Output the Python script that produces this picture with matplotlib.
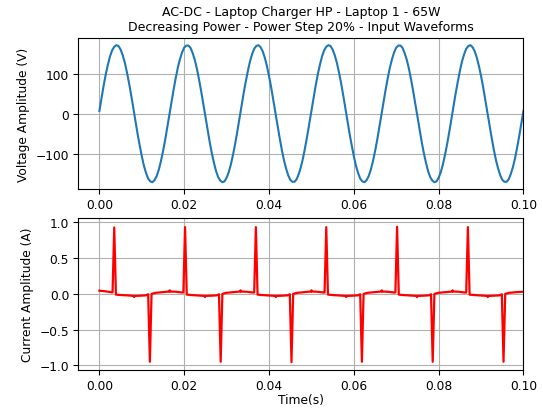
"""AC-DC laptop charger input waveforms (voltage and current)."""
import numpy as np
import matplotlib
matplotlib.use('Agg')
import matplotlib.pyplot as plt

volt_time = np.linspace(0.0, 0.1, 201)
volt = [
    7, 39, 70, 98, 122, 143, 158, 167, 171, 169,
    160, 146, 127, 103, 76, 46, 14, -18, -50, -79,
    -106, -130, -148, -162, -169, -171, -166, -156, -140, -119,
    -94, -66, -35, -3, 29, 60, 89, 115, 136, 153,
    165, 170, 170, 164, 151, 134, 112, 85, 56, 25,
    -7, -39, -70, -98, -122, -143, -158, -167, -171, -169,
    -160, -146, -127, -103, -76, -46, -14, 18, 50, 79,
    106, 130, 148, 162, 169, 171, 166, 156, 140, 119,
    94, 66, 35, 3, -29, -60, -89, -115, -136, -153,
    -165, -170, -170, -164, -151, -134, -112, -85, -56, -25,
    7, 39, 70, 98, 122, 143, 158, 167, 171, 169,
    160, 146, 127, 103, 76, 46, 14, -18, -50, -79,
    -106, -130, -148, -162, -169, -171, -166, -156, -140, -119,
    -94, -66, -35, -3, 29, 60, 89, 115, 136, 153,
    165, 170, 170, 164, 151, 134, 112, 85, 56, 25,
    -7, -39, -70, -98, -122, -143, -158, -167, -171, -169,
    -160, -146, -127, -103, -76, -46, -14, 18, 50, 79,
    106, 130, 148, 162, 169, 171, 166, 156, 140, 119,
    94, 66, 35, 3, -29, -60, -89, -115, -136, -153,
    -165, -170, -170, -164, -151, -134, -112, -85, -56, -25,
    7,
]

# Input current: breakpoints of the measured trace
curr_time = [
    0.0000, 0.0012, 0.0024,
    0.0031, 0.0035, 0.0039, 0.0048, 0.0065, 0.0081, 0.0082, 0.0083, 0.0097, 0.0110,
    0.0115, 0.0119, 0.0123, 0.0132, 0.0149, 0.0165, 0.0166, 0.0167, 0.0181, 0.0194,
    0.0198, 0.0202, 0.0206, 0.0215, 0.0232, 0.0248, 0.0249, 0.0250, 0.0264, 0.0277,
    0.0282, 0.0286, 0.0290, 0.0299, 0.0316, 0.0332, 0.0333, 0.0334, 0.0348, 0.0361,
    0.0365, 0.0369, 0.0373, 0.0382, 0.0399, 0.0415, 0.0416, 0.0417, 0.0431, 0.0444,
    0.0449, 0.0453, 0.0457, 0.0466, 0.0483, 0.0499, 0.0500, 0.0501, 0.0515, 0.0528,
    0.0531, 0.0535, 0.0539, 0.0548, 0.0565, 0.0581, 0.0582, 0.0583, 0.0597, 0.0610,
    0.0615, 0.0619, 0.0623, 0.0632, 0.0649, 0.0665, 0.0666, 0.0667, 0.0681, 0.0694,
    0.0698, 0.0702, 0.0706, 0.0715, 0.0732, 0.0748, 0.0749, 0.0750, 0.0764, 0.0777,
    0.0782, 0.0786, 0.0790, 0.0799, 0.0816, 0.0832, 0.0833, 0.0834, 0.0848, 0.0861,
    0.0865, 0.0869, 0.0873, 0.0882, 0.0899, 0.0915, 0.0916, 0.0917, 0.0931, 0.0944,
    0.0949, 0.0953, 0.0957, 0.0966, 0.0983, 0.1000,
]
curr = [
    0.045, 0.038, 0.028,
    0.020, 0.930, -0.010, -0.015, -0.020, -0.028, -0.045, -0.028, -0.025, -0.020,
    -0.005, -0.950, 0.000, 0.015, 0.025, 0.033, 0.050, 0.033, 0.030, 0.020,
    0.020, 0.935, -0.010, -0.015, -0.022, -0.028, -0.045, -0.028, -0.025, -0.020,
    -0.005, -0.950, 0.000, 0.015, 0.025, 0.033, 0.050, 0.033, 0.030, 0.020,
    0.020, 0.935, -0.010, -0.015, -0.022, -0.028, -0.045, -0.028, -0.025, -0.020,
    -0.005, -0.955, 0.000, 0.015, 0.025, 0.033, 0.050, 0.033, 0.030, 0.020,
    0.020, 0.935, -0.010, -0.015, -0.022, -0.028, -0.045, -0.028, -0.025, -0.020,
    -0.005, -0.950, 0.000, 0.015, 0.025, 0.033, 0.050, 0.033, 0.030, 0.020,
    0.020, 0.940, -0.010, -0.015, -0.022, -0.028, -0.045, -0.028, -0.025, -0.020,
    -0.005, -0.950, 0.000, 0.015, 0.025, 0.033, 0.050, 0.033, 0.030, 0.020,
    0.020, 0.935, -0.010, -0.015, -0.022, -0.028, -0.045, -0.028, -0.025, -0.020,
    -0.005, -0.950, 0.000, 0.015, 0.025, 0.030,
]

plt.rcParams['font.size'] = 8.8

fig, (ax1, ax2) = plt.subplots(2, 1, figsize=(5.43, 4.10), dpi=100)
fig.subplots_adjust(left=0.144, right=0.964, top=0.905, bottom=0.096, hspace=0.19)

ax1.plot(volt_time, volt, color='#1f77b4', linewidth=1.5)
ax1.set_title('AC-DC - Laptop Charger HP - Laptop 1 - 65W\n'
              'Decreasing Power - Power Step 20% - Input Waveforms', fontsize=9)
ax1.set_ylabel('Voltage Amplitude (V)')
ax1.set_xlim(-0.005, 0.1)
ax1.set_ylim(-189, 189)
ax1.set_xticks([0.0, 0.02, 0.04, 0.06, 0.08, 0.10])
ax1.tick_params(pad=3)
ax1.grid(True)

ax2.plot(curr_time, curr, color='red', linewidth=1.6)
ax2.set_ylabel('Current Amplitude (A)')
ax2.set_xlabel('Time(s)', labelpad=1)
ax2.set_xlim(-0.005, 0.1)
ax2.set_ylim(-1.06, 1.06)
ax2.set_xticks([0.0, 0.02, 0.04, 0.06, 0.08, 0.10])
ax2.set_yticks([-1.0, -0.5, 0.0, 0.5, 1.0])
ax2.tick_params(pad=3)
ax2.grid(True)

plt.savefig('out.png', dpi=100)
